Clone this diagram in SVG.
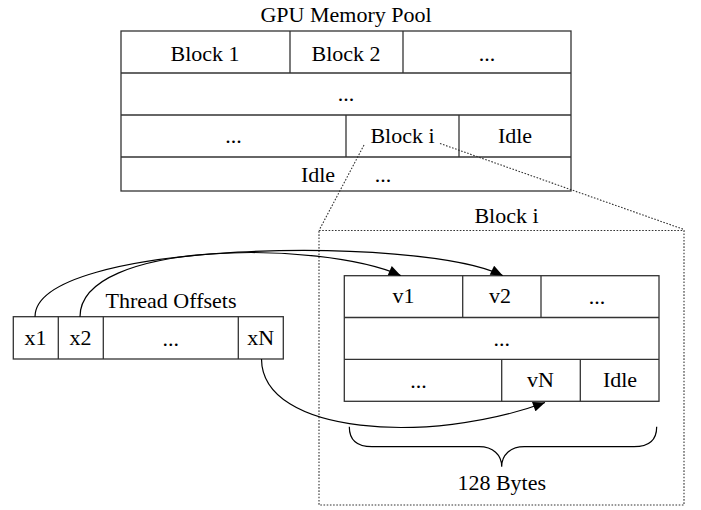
<svg xmlns="http://www.w3.org/2000/svg" width="701" height="510" viewBox="0 0 701 510">
<defs>
<style>
.t{font-family:"Liberation Serif","Times New Roman",serif;font-size:22px;fill:#000;text-anchor:middle}
.b{fill:#fff;stroke:#333;stroke-width:1.3}
.l{stroke:#333;stroke-width:1.3;fill:none}
.d{stroke:#333;stroke-width:1.1;fill:none;stroke-dasharray:1.6 1.6}
.c{stroke:#000;stroke-width:1.2;fill:none}
</style>
<marker id="ah" viewBox="0 0 12 10" refX="12" refY="5" markerWidth="13" markerHeight="10" markerUnits="userSpaceOnUse" orient="auto">
<path d="M0,0 L12,5 L0,10 Z" fill="#000"/>
</marker>
</defs>
<rect width="701" height="510" fill="#fff"/>

<g id="pool">
<text class="t" x="346" y="21.5">GPU Memory Pool</text>
<rect class="b" x="121" y="31" width="450" height="160"/>
<line class="l" x1="121" y1="73" x2="571" y2="73"/>
<line class="l" x1="121" y1="115" x2="571" y2="115"/>
<line class="l" x1="121" y1="157" x2="571" y2="157"/>
<line class="l" x1="290" y1="31" x2="290" y2="73"/>
<line class="l" x1="403" y1="31" x2="403" y2="73"/>
<line class="l" x1="346" y1="115" x2="346" y2="157"/>
<line class="l" x1="459" y1="115" x2="459" y2="157"/>
<text class="t" x="205" y="60.5">Block 1</text>
<text class="t" x="346" y="60.5">Block 2</text>
<text class="t" x="487" y="60.5">...</text>
<text class="t" x="346" y="101">...</text>
<text class="t" x="233.5" y="143">...</text>
<text class="t" x="402.5" y="142.5">Block i</text>
<text class="t" x="515" y="142.5">Idle</text>
<text class="t" x="318" y="181.5">Idle</text>
<text class="t" x="383" y="182">...</text>
</g>

<g id="zoom-lines">
<line class="d" x1="364" y1="145" x2="319" y2="230.5"/>
<line class="d" x1="440" y1="143.5" x2="684" y2="229.5"/>
</g>

<g id="block-i">
<rect class="d" x="319" y="230.5" width="365" height="274.5"/>
<text class="t" x="506.5" y="223">Block i</text>
<rect class="b" x="344.3" y="275.7" width="314.7" height="125.6"/>
<line class="l" x1="344.3" y1="317.5" x2="659" y2="317.5"/>
<line class="l" x1="344.3" y1="359.3" x2="659" y2="359.3"/>
<line class="l" x1="462.7" y1="275.7" x2="462.7" y2="317.5"/>
<line class="l" x1="541" y1="275.7" x2="541" y2="317.5"/>
<line class="l" x1="501.7" y1="359.3" x2="501.7" y2="401.3"/>
<line class="l" x1="580.3" y1="359.3" x2="580.3" y2="401.3"/>
<text class="t" x="403.5" y="303.3">v1</text>
<text class="t" x="500" y="303.3">v2</text>
<text class="t" x="597" y="304">...</text>
<text class="t" x="501.7" y="346">...</text>
<text class="t" x="418.5" y="387.5">...</text>
<text class="t" x="540.5" y="387">vN</text>
<text class="t" x="620" y="387">Idle</text>
<path class="c" d="M349.3,426.7 C349.3,440 356,446.7 372,446.7 L479,446.7 C493,446.7 501.7,455 501.7,466.7 C501.7,455 510.4,446.7 524.4,446.7 L634,446.7 C650,446.7 656.7,440 656.7,426.7"/>
<text class="t" x="501.7" y="490">128 Bytes</text>
</g>

<g id="thread-offsets">
<text class="t" x="171" y="308.3">Thread Offsets</text>
<rect class="b" x="13.3" y="316.7" width="270" height="42.3"/>
<line class="l" x1="58.3" y1="316.7" x2="58.3" y2="359"/>
<line class="l" x1="103.3" y1="316.7" x2="103.3" y2="359"/>
<line class="l" x1="238.3" y1="316.7" x2="238.3" y2="359"/>
<text class="t" x="35.5" y="345">x1</text>
<text class="t" x="80.5" y="345">x2</text>
<text class="t" x="170.8" y="345.5">...</text>
<text class="t" x="260.8" y="345">xN</text>
</g>

<g id="connectors">
<path class="c" d="M35,316.7 C35,240 420,235 502.7,275.5" marker-end="url(#ah)"/>
<path class="c" d="M80,316.7 C80,240 320,240 400.7,275.5" marker-end="url(#ah)"/>
<path class="c" d="M261.5,359 C262,435 430,445 545,402.5" marker-end="url(#ah)"/>
</g>
</svg>
